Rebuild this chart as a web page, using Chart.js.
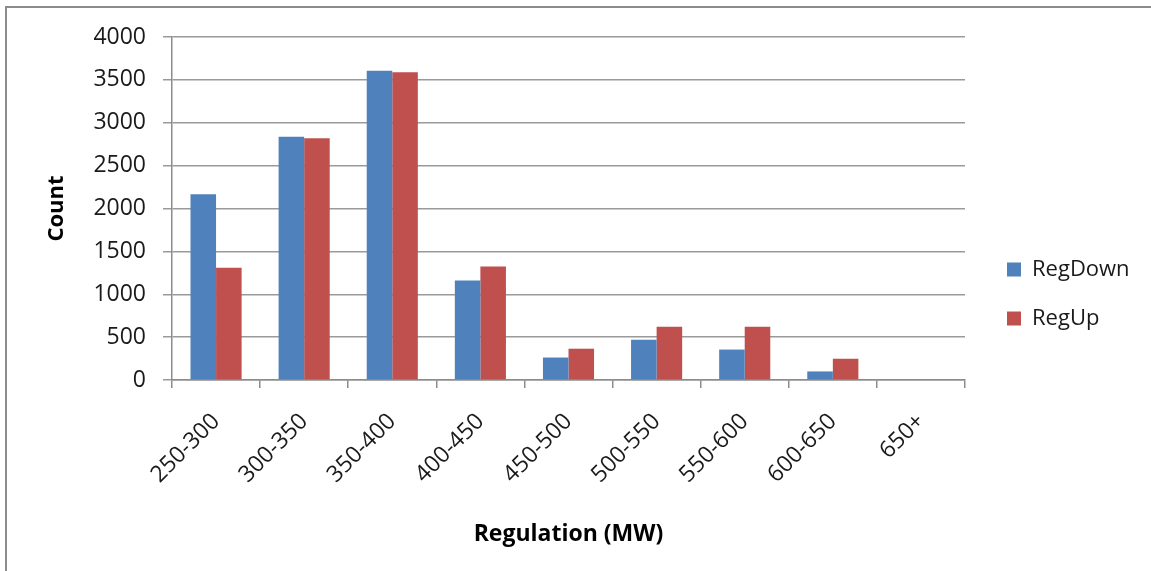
<!DOCTYPE html>
<html>
<head>
<meta charset="utf-8">
<script src="https://cdn.jsdelivr.net/npm/chart.js@4"></script>
<style>
  html, body { margin: 0; padding: 0; background: #fff; }
  #wrap { position: relative; width: 1151px; height: 571px; overflow: hidden; }
  #frame { position: absolute; left: 5px; top: 6px; width: 1200px; height: 600px;
           border-top: 2px solid #8c8c8c; border-left: 2px solid #8c8c8c; pointer-events: none; }
  canvas { position: absolute; left: 0; top: 0; }
</style>
</head>
<body>
<div id="wrap">
  <canvas id="c" width="1151" height="571"></canvas>
  <div id="frame"></div>
</div>
<script>
const categories = ["250-300", "300-350", "350-400", "400-450", "450-500", "500-550", "550-600", "600-650", "650+"];
const regDown = [2165, 2838, 3605, 1160, 262, 470, 355, 100, 0];
const regUp   = [1310, 2820, 3590, 1324, 365, 622, 622, 248, 0];
const yTicks  = [0, 500, 1000, 1500, 2000, 2500, 3000, 3500, 4000];
const seriesNames = ["RegDown", "RegUp"];

const FONT = "'Open Sans', 'DejaVu Sans', sans-serif";
const PLOT_LEFT = 172, PLOT_RIGHT = 965, PLOT_TOP = 37, PLOT_BOTTOM = 380;
const LEGEND_SHIFT_X = 15, LEGEND_SHIFT_Y = -10;

const layoutFix = {
  id: 'layoutFix',
  beforeInit(chart) {
    const lg = chart.legend;
    if (lg) {
      const origFit = lg.fit;
      lg.fit = function () {
        origFit.call(this);
        this.width = chart.width - PLOT_RIGHT;
      };
    }
  },
  afterLayout(chart) {
    const lg = chart.legend;
    if (lg) {
      lg.left += LEGEND_SHIFT_X; lg.right += LEGEND_SHIFT_X;
      lg.top += LEGEND_SHIFT_Y; lg.bottom += LEGEND_SHIFT_Y;
    }
  }
};

new Chart(document.getElementById('c'), {
  type: 'bar',
  data: {
    labels: categories,
    datasets: [
      { label: seriesNames[0], data: regDown, backgroundColor: '#4F81BD' },
      { label: seriesNames[1], data: regUp, backgroundColor: '#C0504D' }
    ]
  },
  options: {
    responsive: false,
    animation: false,
    devicePixelRatio: 1,
    categoryPercentage: 0.58,
    barPercentage: 1,
    layout: { padding: { left: 0, top: PLOT_TOP, right: 0, bottom: 0 } },
    plugins: {
      legend: {
        position: 'right',
        align: 'center',
        labels: {
          font: { family: FONT, size: 22 },
          color: '#1a1a1a',
          boxWidth: 14,
          boxHeight: 14,
          padding: 27
        }
      },
      tooltip: { enabled: false }
    },
    scales: {
      x: {
        afterFit(s) { s.height = 571 - PLOT_BOTTOM; },
        grid: { display: true, drawOnChartArea: false, drawTicks: true, tickLength: 8, color: '#8c8c8c', lineWidth: 1.5, offset: true },
        border: { display: true, color: '#8c8c8c', width: 1.5 },
        ticks: { font: { family: FONT, size: 23 }, color: '#1a1a1a', minRotation: 45, maxRotation: 45, padding: 20, autoSkip: false },
        title: { display: true, text: 'Regulation (MW)', font: { family: FONT, size: 23, weight: 'bold' }, color: '#000', padding: { top: 0, bottom: 23 } }
      },
      y: {
        min: 0, max: 4000,
        afterFit(s) { s.width = PLOT_LEFT; },
        afterBuildTicks(s) { s.ticks = yTicks.map(v => ({ value: v })); },
        grid: { color: '#9a9a9a', lineWidth: 1.5, tickLength: 9, drawTicks: true },
        border: { display: true, color: '#8c8c8c', width: 1.5 },
        ticks: { font: { family: FONT, size: 23 }, color: '#1a1a1a', padding: 17, callback: v => String(v) },
        title: { display: true, text: 'Count', font: { family: FONT, size: 22, weight: 'bold' }, color: '#000', padding: { top: 44, bottom: 0 } }
      }
    }
  },
  plugins: [layoutFix]
});
</script>
</body>
</html>
